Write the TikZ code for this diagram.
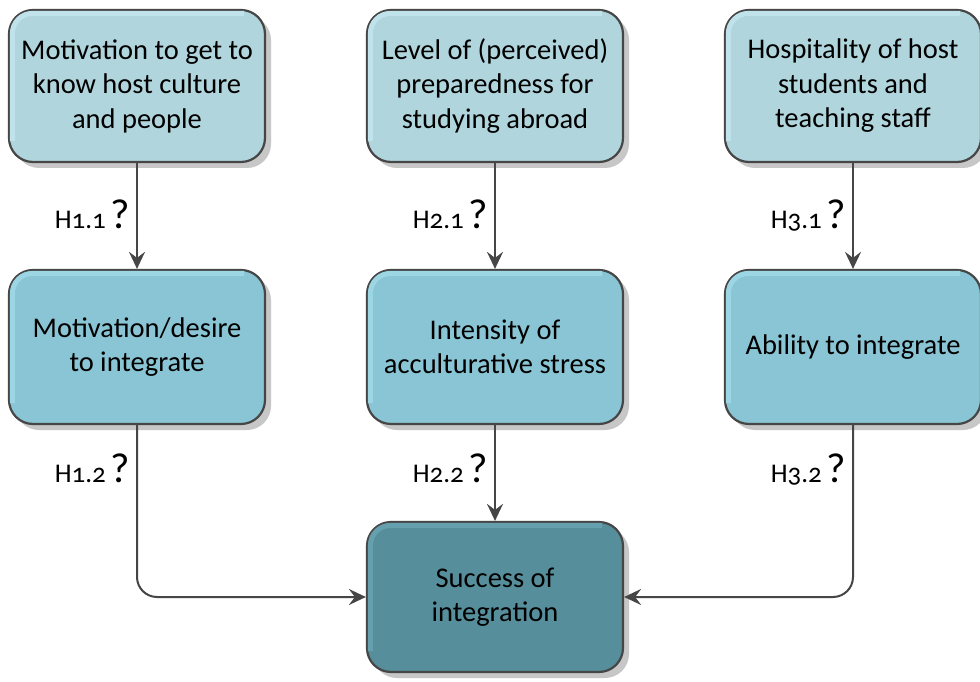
\documentclass[tikz,border=0pt]{standalone}
\usepackage{fontspec}
\setmainfont[Numbers=OldStyle]{Carlito}
\usetikzlibrary{arrows.meta,shadows,calc}
\definecolor{topfill}{RGB}{176,213,221}
\definecolor{topedge}{RGB}{192,226,234}
\definecolor{midfill}{RGB}{137,197,212}
\definecolor{midedge}{RGB}{156,214,228}
\definecolor{botfill}{RGB}{86,142,155}
\definecolor{botedge}{RGB}{102,160,174}
\definecolor{linegray}{RGB}{70,70,70}
\tikzset{
  box/.style={rectangle, rounded corners=24pt, draw=linegray, line width=2.2pt,
    minimum width=256pt, align=center, font=\fontsize{28.5}{34.5}\selectfont,
    drop shadow={shadow xshift=6pt, shadow yshift=-6pt, fill=black!22, opacity=1}},
  topbox/.style={box, minimum height=152pt, fill=topfill},
  midbox/.style={box, minimum height=154pt, fill=midfill},
  botbox/.style={box, minimum height=150pt, fill=botfill},
  conn/.style={draw=linegray, line width=2pt, -{Stealth[length=17pt,width=16pt,inset=6pt]}},
  hlabel/.style={anchor=base east, font=\fontsize{27}{30}\selectfont, inner sep=1pt}
}
\newcommand{\qmk}{\,{\fontsize{42}{44}\selectfont ?}}
\begin{document}
\begin{tikzpicture}[x=1pt,y=-1pt]
\useasboundingbox[fill=white] (0,0) rectangle (980,682);

\node[topbox] (a1) at (137,86) {Motivation to get to\\know host culture\\and people};
\node[topbox] (a2) at (495,86) {Level of (perceived)\\preparedness for\\studying abroad};
\node[topbox] (a3) at (853,86) {Hospitality of host\\students and\\teaching staff};

\node[midbox] (b1) at (137,347) {Motivation/desire\\to integrate};
\node[midbox] (b2) at (495,347) {Intensity of\\acculturative stress};
\node[midbox] (b3) at (853,347) {Ability to integrate};

\node[botbox] (c) at (495,597) {Success of\\integration};

% thin light rim along the left and top of each box
\foreach \n/\c in {a1/topedge,a2/topedge,a3/topedge,b1/midedge,b2/midedge,b3/midedge,c/botedge}{
  \draw[\c, line width=5pt, rounded corners=20pt]
    ($(\n.south west)+(4.5,-22)$) -- ($(\n.north west)+(4.5,4.5)$) -- ($(\n.north east)+(-22,4.5)$);
}

\draw[conn] (a1) -- (b1);
\draw[conn] (a2) -- (b2);
\draw[conn] (a3) -- (b3);
\draw[conn] (b2) -- (c);
\draw[conn, rounded corners=20pt] (b1.south) |- (c.west);
\draw[conn, rounded corners=20pt] (b3.south) |- (c.east);

\node[hlabel] (l11) at (131,228) {H1.1\qmk};
\node[hlabel] (l21) at (489,228) {H2.1\qmk};
\node[hlabel] (l31) at (847,228) {H3.1\qmk};
\node[hlabel] (l12) at (131,482) {H1.2\qmk};
\node[hlabel] (l22) at (489,482) {H2.2\qmk};
\node[hlabel] (l32) at (847,482) {H3.2\qmk};
\end{tikzpicture}
\end{document}
